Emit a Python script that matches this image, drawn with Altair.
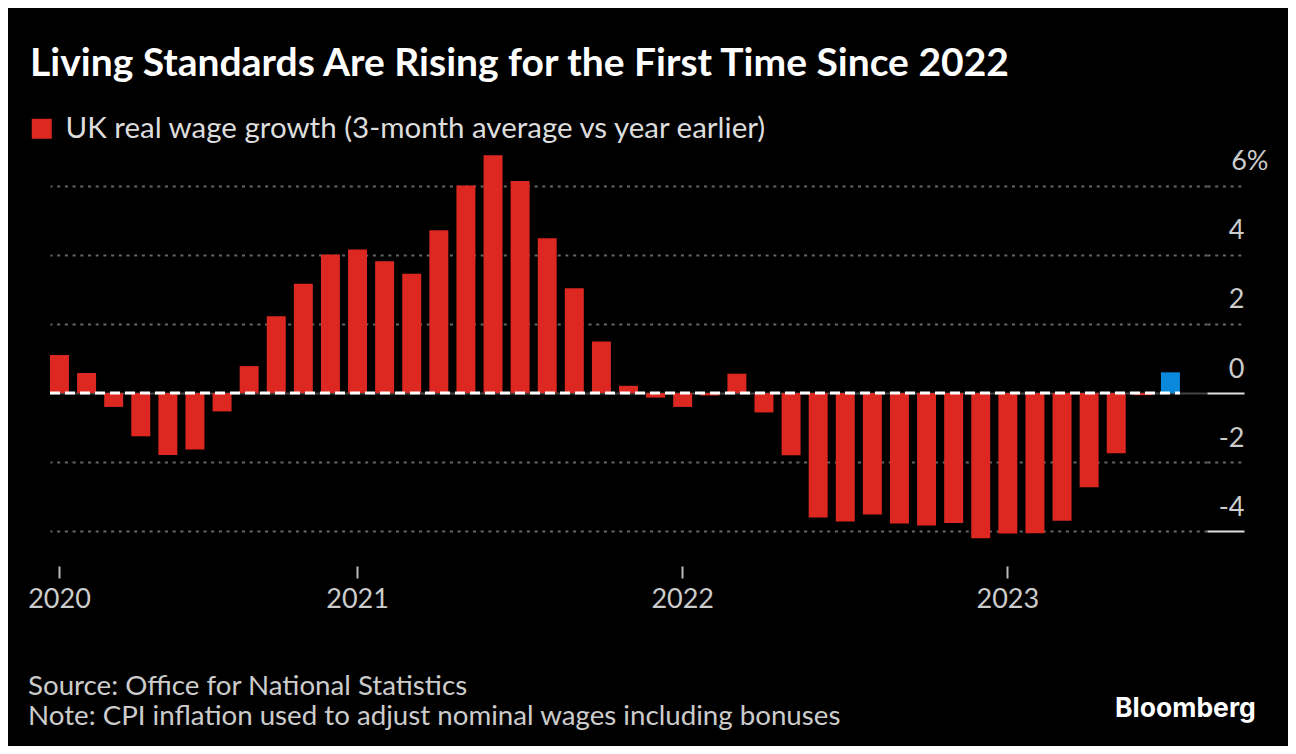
import altair as alt
import pandas as pd

FONT = "Lato"
RED = "#dd2822"
BLUE = "#0a88dc"

# Three-month average real wage growth, % vs year earlier (latest month last)
months = list(pd.period_range("2020-01", "2023-06", freq="M").strftime("%Y-%m"))
wage_growth = [
    1.10, 0.58, -0.40, -1.25, -1.79, -1.63, -0.53, 0.78, 2.22, 3.16, 4.01, 4.15,
    3.81, 3.45, 4.71, 6.00, 6.88, 6.13, 4.48, 3.03, 1.49, 0.21, -0.13, -0.40,
    -0.07, 0.56, -0.56, -1.80, -3.60, -3.71, -3.51, -3.77, -3.83, -3.76, -4.20, -4.06,
    -4.05, -3.69, -2.72, -1.74, -0.06, 0.60,
]

tick_months = ["2020-01", "2020-12", "2021-12", "2022-12"]
tick_labels = ["2020", "2021", "2022", "2023"]
y_ticks = [-4, -2, 0, 2, 4, 6]

series_name = "UK real wage growth (3-month average vs year earlier)"
latest_name = "Latest"

title_text = "Living Standards Are Rising for the First Time Since 2022"
source_text = "Source: Office for National Statistics"
note_text = "Note: CPI inflation used to adjust nominal wages including bonuses"

df = pd.DataFrame({"month": months, "growth": wage_growth})
df["series"] = [latest_name if m == months[-1] else series_name for m in months]

x_scale = alt.Scale(domain=months, paddingInner=0.3, paddingOuter=0.5, align=0)
y_scale = alt.Scale(domain=[-5, 7], nice=False, zero=False)

year_lookup = ", ".join(f"'{m}': '{l}'" for m, l in zip(tick_months, tick_labels))

strong_tick = "datum.value === 0 || datum.value === -4"

bars = (
    alt.Chart(df)
    .mark_bar()
    .encode(
        x=alt.X(
            "month:O",
            scale=x_scale,
            title=None,
            axis=alt.Axis(
                values=tick_months,
                labelExpr="{" + year_lookup + "}[datum.value]",
                labelAngle=0,
                domain=False,
                grid=False,
                tickSize=12,
                tickWidth=2,
                tickColor="#bbbbbb",
                labelColor="#cccccc",
                labelFontSize=27,
                labelPadding=8,
            ),
        ),
        y=alt.Y(
            "growth:Q",
            scale=y_scale,
            title=None,
            axis=alt.Axis(
                orient="right",
                values=y_ticks,
                domain=False,
                grid=True,
                gridWidth=2,
                gridColor={"condition": {"test": "datum.value === 0", "value": "#444444"}, "value": "#666666"},
                gridDash={"condition": {"test": "datum.value === 0", "value": []}, "value": [3, 4.7]},
                tickSize=37,
                tickWidth=2,
                tickColor={"condition": {"test": strong_tick, "value": "#dddddd"}, "value": "#666666"},
                tickDash={"condition": {"test": strong_tick, "value": []}, "value": [3, 4.7]},
                labelAlign="right",
                labelBaseline="alphabetic",
                labelOffset=-16,
                labelPadding={"condition": {"test": "datum.value === 6", "value": 24}, "value": 0},
                labelExpr="datum.value === 6 ? '6%' : '' + datum.value",
                labelFontSize=27,
                labelColor="#cccccc",
                labelFlush=False,
                labelOverlap=False,
            ),
        ),
        color=alt.Color(
            "series:N",
            scale=alt.Scale(domain=[series_name, latest_name], range=[RED, BLUE]),
            legend=alt.Legend(
                values=[series_name],
                orient="none",
                legendX=-23,
                legendY=-37,
                title=None,
                symbolType="square",
                symbolSize=400,
                symbolStrokeWidth=0,
                labelFontSize=29.5,
                labelColor="#dddddd",
                labelOffset=9,
                labelLimit=1000,
            ),
        ),
    )
)

zero_line = (
    alt.Chart(pd.DataFrame({"y": [0]}))
    .mark_rule(color="white", strokeWidth=3, strokeDash=[10, 5])
    .encode(
        x=alt.XDatum(months[0], type="ordinal", bandPosition=0),
        x2=alt.X2Datum(months[-1], bandPosition=1),
        y="y:Q",
    )
)


def text_layer(text, x, y, size, color, weight="normal", font=FONT):
    return (
        alt.Chart(pd.DataFrame({"t": [text]}))
        .mark_text(
            align="left",
            baseline="alphabetic",
            fontSize=size,
            fontWeight=weight,
            color=color,
            font=font,
        )
        .encode(x=alt.value(x), y=alt.value(y), text="t:N")
    )


title = text_layer(title_text, -20, -75, 39, "white", "bold")
source = text_layer(source_text, -22, 544, 27.7, "#cccccc")
note = text_layer(note_text, -22, 574, 27.7, "#cccccc")
logo = text_layer("Bloomberg", 1065, 566, 26.5, "white", "bold", "Inter")

chart = (
    alt.layer(bars, zero_line, title, source, note, logo)
    .properties(
        width=1157,
        height=415,
        background="black",
        autosize=alt.AutoSizeParams(type="none"),
        padding={"left": 42, "top": 143, "right": 81, "bottom": 180},
    )
    .configure(font=FONT)
    .configure_view(stroke=None)
)

chart.save("out.html", embed_options={"renderer": "svg", "actions": False})
